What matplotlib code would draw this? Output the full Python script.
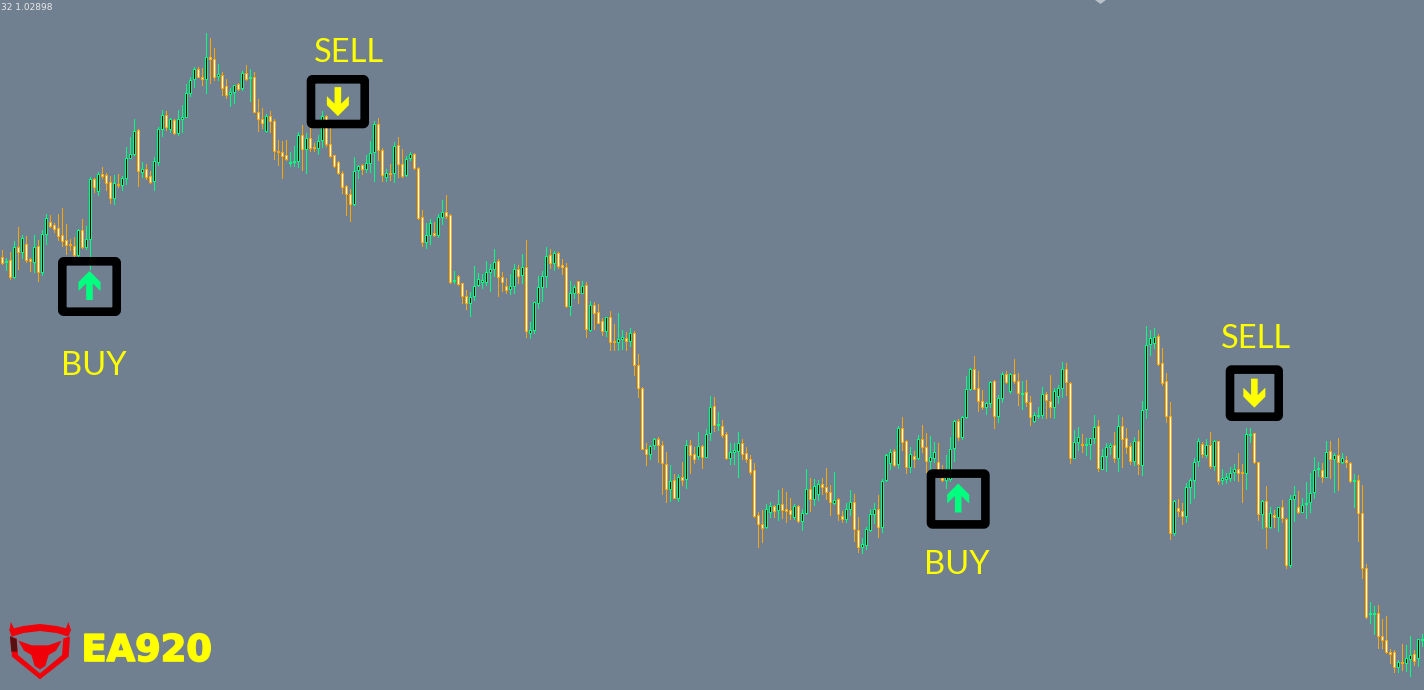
import matplotlib
matplotlib.use("Agg")
import matplotlib.pyplot as plt
import matplotlib.patheffects as pe
from matplotlib.patches import FancyBboxPatch, Polygon

# Candle levels (screen-level scale, smaller = higher)
highs = [
250,258,252,241,227,235,236,258,235,240, 230,214,215,223,214,208,224,239,237,229,
219,226,177,178,172,167,173,176,175,174, 176,147,137,119,129,162,164,171,157,127,
110,111,118,119,110,105,84,77,67,67, 68,33,38,48,64,72,79,88,85,83,
71,65,69,72,99,108,114,111,119,140, 141,140,152,146,132,125,133,128,143,135,
111,115,128,155,161,171,185,189,157,165, 164,155,141,121,118,148,169,164,142,137,
149,156,152,153,167,210,223,219,222,214, 200,195,214,271,275,283,290,292,266,273,
274,261,264,249,259,272,278,274,264,265, 254,240,322,302,276,271,247,249,251,252,
259,263,281,285,281,281,282,301,302,304, 318,317,311,324,313,330,332,328,331,354,
387,443,445,438,437,441,452,465,474,474, 462,440,440,447,432,445,429,396,397,412,
420,432,443,443,432,439,447,455,463,512, 510,504,502,505,490,488,492,498,504,505,
509,469,478,479,480,478,468,485,472,498, 511,503,490,494,517,538,527,509,503,495,
479,454,449,449,426,417,440,447,451,435, 425,433,436,442,443,465,455,437,420,419,
416,376,368,356,371,390,402,381,380,395, 372,371,373,359,373,381,380,396,412,407,
387,392,375,388,385,362,363,382,430,427, 434,438,438,415,420,449,443,443,432,415,
417,428,443,437,430,401,326,330,328,334, 348,373,402,500,499,503,483,478,458,438,
442,439,432,440,441,469,473,467,464,453, 464,428,428,433,462,500,486,507,510,507,
500,518,495,486,491,498,482,473,457,462, 463,441,441,453,438,453,456,462,474,475,
485,564,602,606,605,619,616,649,650,660, 644,645,636,650,639,634]

body_tops = [
257,261,260,247,247,238,244,259,247,246, 234,218,222,225,228,235,240,244,246,230,
230,239,179,179,174,174,175,182,183,184, 178,158,154,131,130,169,169,176,161,129,
115,115,119,120,119,117,93,80,69,69, 77,57,57,59,74,75,86,92,85,84,
73,73,77,77,112,119,116,116,121,151, 152,155,162,161,135,135,138,138,147,141,
116,116,144,155,162,173,186,194,171,166, 165,163,153,124,124,150,173,173,146,145,
164,159,154,154,168,217,235,223,233,217, 212,212,215,280,276,283,296,297,286,279,
280,272,269,262,261,277,286,286,269,269, 267,267,330,302,287,276,256,255,253,253,
265,267,293,287,281,286,285,305,305,312, 321,317,317,341,339,337,338,333,333,365,
388,449,446,439,439,445,464,481,480,477, 477,445,445,454,446,446,434,407,406,424,
426,434,452,450,443,443,453,459,470,515, 524,509,506,506,504,504,509,510,506,506,
513,489,489,486,484,484,487,492,500,499, 516,509,502,502,530,544,529,514,509,509,
481,455,452,451,428,428,441,454,456,439, 439,447,457,452,462,478,476,449,421,421,
417,389,369,369,388,401,403,382,381,398, 374,374,374,374,381,393,392,402,415,415,
394,394,401,391,388,369,369,383,442,437, 444,444,438,427,426,456,447,445,445,426,
426,438,446,441,441,410,345,338,337,336, 363,381,416,501,508,511,487,480,462,441,
444,445,445,441,441,478,477,473,469,469, 472,434,434,433,462,501,501,513,515,507,
507,519,499,495,507,505,503,493,470,468, 470,452,451,455,455,458,460,463,480,480,
513,568,613,613,613,636,640,652,652,662, 662,658,655,654,639,639]

body_bottoms = [
263,262,277,277,252,252,260,261,262,272, 272,234,226,229,236,241,245,245,255,255,
247,247,239,187,191,176,183,198,198,185, 185,178,158,154,171,172,177,182,181,162,
129,127,129,133,133,119,117,93,79,77, 79,79,59,77,76,88,95,94,92,89,
88,79,78,112,119,123,131,121,151,152, 156,159,163,162,161,149,149,148,148,148,
140,144,156,166,173,187,194,204,204,170, 169,169,163,152,150,175,177,174,173,164,
176,175,158,168,218,242,242,235,235,235, 217,216,282,281,284,296,303,303,296,285,
282,282,272,269,277,282,290,289,286,276, 275,331,333,330,303,287,276,263,263,266,
267,306,306,293,293,293,329,330,313,323, 331,331,342,342,342,339,341,341,365,388,
449,454,454,445,445,463,489,489,498,498, 480,479,455,459,456,457,457,433,425,425,
435,458,458,452,451,454,459,472,516,524, 528,527,512,511,510,510,511,514,517,521,
521,513,499,499,494,487,492,502,503,514, 519,519,509,529,547,547,545,530,514,527,
527,480,463,465,464,442,467,467,459,458, 447,461,461,458,470,480,480,479,448,437,
437,417,389,389,401,407,407,403,416,416, 398,382,391,381,393,394,402,417,421,416,
415,400,407,407,396,388,382,458,458,442, 445,445,444,438,468,469,456,447,458,458,
439,447,461,461,464,465,409,344,343,364, 383,416,533,533,511,516,516,487,480,461,
454,455,466,466,481,480,479,478,472,473, 473,473,435,462,514,514,527,527,517,517,
518,565,565,499,512,512,504,502,492,469, 477,477,459,459,462,462,462,481,481,513,
568,617,614,614,636,640,652,654,667,667, 663,663,659,661,658,640]

lows = [
264,270,279,278,269,258,262,271,272,281, 275,244,227,232,240,246,254,250,257,257,
248,249,269,192,195,178,190,203,204,187, 190,184,158,155,186,177,179,183,190,165,
136,130,132,134,135,132,117,96,87,77, 85,93,83,80,80,95,98,106,103,90,
90,80,101,112,131,128,132,132,159,165, 178,160,166,166,167,170,173,151,151,154,
147,146,157,167,174,193,215,221,205,178, 174,172,172,181,160,181,181,180,182,177,
177,176,160,169,219,246,248,244,236,237, 224,218,283,283,285,303,309,316,300,286,
288,285,291,276,296,291,293,294,293,283, 283,337,338,333,308,301,287,268,270,268,
274,307,315,298,303,293,337,331,329,323, 335,336,350,350,350,349,350,346,375,397,
449,465,459,449,462,494,502,501,498,501, 485,488,473,463,459,468,457,440,431,430,
437,459,464,464,477,459,462,474,517,547, 542,528,517,517,520,518,522,519,519,522,
530,514,511,505,500,494,499,515,504,520, 522,522,515,541,552,553,549,531,523,537,
532,481,469,466,468,450,473,472,467,459, 452,472,472,462,475,481,488,481,461,440,
439,418,390,389,411,409,414,407,428,422, 402,383,393,383,405,409,406,425,422,418,
418,418,417,418,403,397,395,463,458,450, 452,455,459,443,471,469,471,454,462,471,
467,453,464,465,474,475,418,355,348,365, 385,422,539,535,516,524,522,503,498,466,
457,457,468,470,484,484,483,481,480,481, 502,489,442,463,520,528,548,528,527,531,
522,568,567,521,513,512,518,512,498,476, 482,477,478,492,490,463,467,482,507,541,
578,618,623,634,648,648,653,663,672,672, 670,671,676,665,666,646]

directions = (
"OGOGOGOOGO" "GGOOOOOOOG" "OGGOGOOOGO" "GGGGOGOOGG" "GOGOGGGGGO"
"OGOOGOOGGO" "GOGOOOGOOO" "OOGGGOGOOG" "GOOOOOOOGG" "OGGGOOGOGO"
"OGGOOOGGOG" "GOOGOOOGGG" "GGGGOOOGGO" "GOGGGGGOGO" "OOGGOGOGOO"
"OGOOGGOGOO" "OOGGOOOGOG" "OGOOGOGGOG" "OOGGGOOOOO" "OGGOGOOOGO"
"GGOGGOOOGO" "OGGOOGGGGO" "GGGOGOOGOG" "OOGGOOGGGO" "GGGOOOGGOG"
"GOGOOGOOGG" "GOOGGGOOGG" "OGGGOGGGOG" "OOOGOGGGGO" "OOOGOOGGGG"
"OGOGOGGGGO" "OGGOOGOGOG" "OOGGOGGGGG" "OGOGOGOOGO" "OOGGOOOOOG"
"OGGOGG")

signal_labels = ["BUY", "SELL", "BUY", "SELL"]
signal_label_centres = [(94, 366), (349, 53), (957, 565), (1255.5, 339)]
signal_boxes = [(58, 257, 121, 316), (306.7, 75, 369, 128.3),
                (926.7, 469.3, 989.7, 528.7), (1225.7, 365.3, 1283, 421)]
signal_arrows = ["up", "down", "up", "down"]
header_text = "32 1.02898"
brand_text = "EA920"

BG = "#708090"
GREEN = "#00FF7F"
ORANGE = "#FFA500"
YELLOW = "#FFFF00"
PX = 72 / 100

fig = plt.figure(figsize=(14.24, 6.90), dpi=100, facecolor=BG)
ax = fig.add_axes([0, 0, 1, 1], facecolor=BG)
n = len(highs)
idx = list(range(n))
ax.set_xlim(-2.5 / 4, (1424 - 2.5) / 4)
ax.set_ylim(690, 0)
ax.axis("off")

wick_colors = [GREEN if d == "G" else ORANGE for d in directions]
body_colors = ["black" if d == "G" else "white" for d in directions]
# wicks: 1 px wide, body frame: 3 px wide, body core: 1 px wide
ax.bar(idx, [l - h + 1 for h, l in zip(highs, lows)], bottom=highs, width=0.25,
       color=wick_colors, linewidth=0, antialiased=False, zorder=2)
ax.bar(idx, [b - t + 1 for t, b in zip(body_tops, body_bottoms)], bottom=body_tops,
       width=0.75, color=wick_colors, linewidth=0, antialiased=False, zorder=3)
ax.bar(idx, [max(b - t - 1, 0) for t, b in zip(body_tops, body_bottoms)],
       bottom=[t + 1 for t in body_tops], width=0.25, color=body_colors,
       linewidth=0, antialiased=False, zorder=4)

# Overlay in picture pixels for annotations and brand mark
ov = fig.add_axes([0, 0, 1, 1], facecolor="none")
ov.set_xlim(0, 1424)
ov.set_ylim(690, 0)
ov.axis("off")

STROKE = 8.6
for (x0, y0, x1, y1), lab, (cx, cy), kind in zip(signal_boxes, signal_labels,
                                                signal_label_centres, signal_arrows):
    s = STROKE / 2
    ov.add_patch(FancyBboxPatch((x0 + s, y0 + s), x1 - x0 - 2 * s, y1 - y0 - 2 * s,
                                boxstyle="round,pad=0,rounding_size=1.5",
                                fill=False, edgecolor="black", linewidth=STROKE * PX,
                                joinstyle="round", zorder=5))
    ax_c = (x0 + x1) / 2
    ay_c = (y0 + y1) / 2
    if kind == "up":
        pts = [(0, -15.5), (11, -4.5), (11, 4.5), (3.3, -3), (3.3, 13.5),
               (-3.3, 13.5), (-3.3, -3), (-11, 4.5), (-11, -4.5)]
        col = GREEN
    else:
        pts = [(0, 14.5), (11, 3.5), (11, -5.5), (3.3, 2), (3.3, -14.5),
               (-3.3, -14.5), (-3.3, 2), (-11, -5.5), (-11, 3.5)]
        col = YELLOW
    ov.add_patch(Polygon([(ax_c + a, ay_c + b) for a, b in pts], closed=True,
                         facecolor=col, edgecolor="none", zorder=6))
    ov.text(cx, cy, lab, color=YELLOW, fontsize=23.5, family="Lato",
            ha="center", va="center", zorder=6)

ov.text(1, 7, header_text, color="#E8E8E8", fontsize=6.5, family="DejaVu Sans",
        ha="left", va="center", zorder=6)
ov.add_patch(Polygon([(1095, 0), (1106, 0), (1100.5, 4)], closed=True,
                     facecolor="#B8C0C8", edgecolor="none", zorder=6))

# Brand mark (zoom-space outline: scale 1/3, origin y 610)
def lg(pts):
    return [(x / 3, 610 + y / 3) for x, y in pts]

RED = "#F00008"
ov.add_patch(Polygon(lg([(33, 36), (42, 55), (70, 48), (120, 42), (170, 48), (198, 55),
                         (205, 36), (213, 60), (205, 80), (170, 69), (120, 63),
                         (70, 69), (35, 80), (28, 60)]),
                     closed=True, facecolor=RED, edgecolor="none", zorder=6))
ov.add_patch(Polygon(lg([(30, 80), (50, 85), (54, 135), (120, 190), (186, 135), (190, 85),
                         (210, 80), (206, 140), (120, 208), (36, 140)]),
                     closed=True, facecolor=RED, edgecolor="none", zorder=6))
ov.add_patch(Polygon(lg([(30, 78), (50, 88), (52, 125), (34, 125)]),
                     closed=True, facecolor="#5A1010", edgecolor="none", zorder=7))
ov.add_patch(Polygon(lg([(55, 92), (95, 106), (145, 106), (185, 92), (168, 122),
                         (146, 135), (136, 168), (120, 178), (104, 168), (94, 135),
                         (72, 122)]),
                     closed=True, facecolor=RED, edgecolor="none", zorder=6))
brand = ov.text(81.5, 650.5, brand_text, color=YELLOW, fontsize=26.5, family="DejaVu Sans",
                fontweight="bold", ha="left", va="center", zorder=6)
brand.set_path_effects([pe.withStroke(linewidth=1.2, foreground=YELLOW)])

fig.savefig("out.png", dpi=100, facecolor=BG)
